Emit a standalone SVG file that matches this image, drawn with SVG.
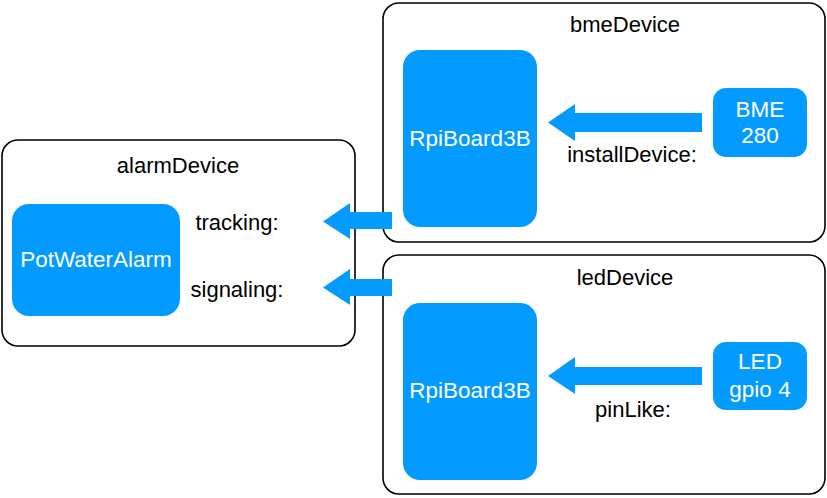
<svg xmlns="http://www.w3.org/2000/svg" width="827" height="498" viewBox="0 0 827 498">
<style>
.box{fill:#fff;stroke:#000;stroke-width:1.6}
.node{fill:#039bff}
.t{font-family:"Liberation Sans",Arial,sans-serif;font-size:22px;fill:#000;text-anchor:middle}
.w{font-family:"Liberation Sans",Arial,sans-serif;font-size:22.5px;fill:#fff;text-anchor:middle}
.arr{fill:#039bff}
</style>
<rect width="827" height="498" fill="#fff"/>
<g id="bmeDevice">
<rect class="box" x="383" y="3" width="442" height="239" rx="16"/>
<text class="t" x="625" y="32">bmeDevice</text>
</g>
<g id="ledDevice">
<rect class="box" x="383" y="255" width="442" height="239" rx="16"/>
<text class="t" x="625" y="285">ledDevice</text>
</g>
<g id="alarmDevice">
<rect class="box" x="2" y="140" width="353" height="206" rx="16"/>
<text class="t" x="178" y="173">alarmDevice</text>
</g>
<g id="rpiTop">
<rect class="node" x="403" y="50" width="134" height="177" rx="17"/>
<text class="w" x="470" y="146">RpiBoard3B</text>
</g>
<g id="bme280">
<rect class="node" x="713" y="88" width="94" height="69" rx="13"/>
<text class="w" x="760" y="117">BME</text>
<text class="w" x="760" y="143">280</text>
</g>
<g id="rpiBottom">
<rect class="node" x="403" y="303" width="134" height="177" rx="17"/>
<text class="w" x="470" y="398">RpiBoard3B</text>
</g>
<g id="led">
<rect class="node" x="713" y="342" width="94" height="68" rx="13"/>
<text class="w" x="760" y="369">LED</text>
<text class="w" x="760" y="397">gpio 4</text>
</g>
<g id="potWaterAlarm">
<rect class="node" x="12" y="204" width="168" height="112" rx="17"/>
<text class="w" x="96" y="267">PotWaterAlarm</text>
</g>
<g id="connectors">
<polygon class="arr" points="702,113 575,113 575,104 548,122.5 575,141 575,132 702,132"/>
<text class="t" x="632" y="162">installDevice:</text>
<polygon class="arr" points="702,367 575,367 575,357 548,376 575,394 575,385 702,385"/>
<text class="t" x="633" y="417">pinLike:</text>
<polygon class="arr" points="392,212 350,212 350,203 323,221.5 350,239 350,229 392,229"/>
<text class="t" x="237" y="230">tracking:</text>
<polygon class="arr" points="392,279 350,279 350,269 323,287.5 350,305 350,296 392,296"/>
<text class="t" x="237" y="297">signaling:</text>
</g>
</svg>
